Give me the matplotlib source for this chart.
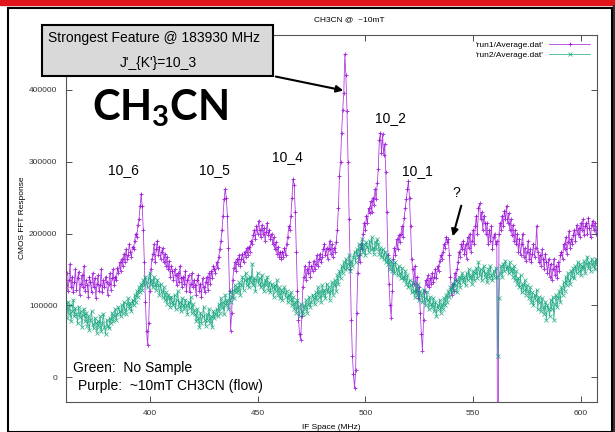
import numpy as np
import matplotlib
matplotlib.use("Agg")
import matplotlib.pyplot as plt
from matplotlib.patches import Rectangle

plt.rcParams['font.family'] = ['Liberation Sans', 'DejaVu Sans']
plt.rcParams['mathtext.fontset'] = 'custom'
plt.rcParams['mathtext.rm'] = 'Lato:bold'
plt.rcParams['mathtext.it'] = 'Lato:bold'
plt.rcParams['mathtext.bf'] = 'Lato:bold'

# frequency grid (MHz), one point every 0.5 MHz
f_start = 361.0
f_step = 0.5

# run1 (purple, CH3CN flow), values in units of 1000
run1_k = [
    128, 145, 120, 135, 158, 125, 140, 118, 132, 150,
    122, 138, 147, 115, 130, 142, 125, 155, 120, 135,
    128, 112, 140, 133, 118, 145, 125, 138, 110, 130,
    142, 120, 128, 150, 118, 135, 125, 140, 132, 115,
    130, 145, 122, 138, 150, 128, 140, 135, 152, 145,
    160, 148, 165, 155, 172, 160, 178, 165, 170, 185,
    175, 168, 182, 178, 190, 200, 195, 212, 220, 238,
    255, 238, 205, 160, 105, 65, 45, 75, 120, 150,
    165, 172, 185, 160, 178, 190, 170, 182, 165, 175,
    180, 160, 172, 155, 168, 150, 162, 140, 155, 148,
    135, 150, 142, 128, 145, 132, 155, 138, 125, 140,
    130, 148, 120, 135, 142, 118, 130, 145, 125, 135,
    128, 115, 135, 142, 120, 130, 112, 138, 125, 118,
    132, 140, 122, 145, 130, 148, 138, 155, 150, 145,
    160, 152, 168, 178, 190, 205, 225, 248, 262, 250,
    225, 180, 120, 65, 90, 135, 152, 160, 148, 165,
    158, 170, 155, 165, 172, 160, 175, 168, 180, 170,
    182, 175, 190, 185, 198, 205, 192, 210, 200, 218,
    205, 195, 212, 200, 208, 190, 202, 215, 198, 205,
    192, 200, 185, 195, 178, 188, 172, 182, 168, 175,
    165, 175, 168, 180, 170, 185, 195, 210, 205, 225,
    250, 276, 268, 230, 175, 120, 80, 60, 52, 85,
    125, 140, 155, 135, 150, 145, 160, 140, 155, 148,
    162, 150, 158, 170, 155, 165, 172, 160, 168, 178,
    185, 170, 180, 165, 178, 190, 172, 185, 168, 180,
    175, 188, 205, 235, 280, 300, 340, 372, 395, 450,
    420, 370, 300, 220, 150, 80, 30, 5, -15, 10,
    90, 145, 170, 160, 185, 178, 200, 215, 205, 225,
    215, 235, 228, 245, 230, 250, 240, 262, 248, 270,
    290, 330, 340, 312, 338, 310, 325, 285, 230, 170,
    130, 100, 83, 120, 165, 180, 170, 192, 178, 198,
    188, 200, 210, 195, 222, 235, 248, 262, 273, 250,
    210, 165, 150, 130, 155, 120, 140, 110, 125, 90,
    60, 37, 80, 120, 135, 128, 142, 125, 138, 130,
    145, 132, 140, 150, 138, 155, 148, 162, 170, 165,
    175, 185, 180, 195, 188, 192, 170, 140, 115, 130,
    120, 145, 135, 150, 160, 175, 168, 185, 178, 190,
    172, 185, 165, 195, 180, 200, 175, 190, 205, 185,
    210, 225, 200, 235, 242, 220, 230, 205, 225, 215,
    200, 215, 185, 205, 190, 210, 178, 195, 200, 185,
    190, -250, 200, 215, 205, 225, 210, 232, 220, 239,
    215, 228, 205, 220, 198, 212, 190, 205, 185, 200,
    175, 192, 170, 185, 200, 168, 180, 162, 175, 190,
    165, 178, 160, 172, 185, 168, 180, 211, 175, 160,
    170, 155, 178, 165, 150, 172, 160, 145, 165, 140,
    158, 135, 150, 165, 142, 155, 138, 160, 148, 170,
    175, 165, 185, 178, 195, 172, 188, 204, 180, 192,
    185, 198, 205, 190, 212, 200, 208, 195, 215, 205,
    220, 198, 210, 215, 200, 222, 208, 195, 212, 218,
    205, 215, 200, 210,
]

# run2 (green, no sample), values in units of 1000
run2_k = [
    95, 82, 105, 88, 100, 78, 92, 108, 85, 96,
    88, 75, 98, 84, 92, 70, 86, 95, 78, 90,
    72, 85, 66, 80, 92, 74, 68, 83, 76, 62,
    78, 70, 85, 64, 75, 88, 70, 60, 80, 72,
    68, 82, 75, 90, 78, 85, 95, 80, 88, 98,
    92, 85, 100, 90, 105, 95, 88, 102, 110, 96,
    104, 92, 108, 100, 115, 105, 120, 112, 125, 118,
    130, 122, 135, 128, 140, 132, 125, 138, 145, 130,
    135, 125, 140, 130, 122, 136, 128, 115, 130, 120,
    112, 125, 108, 118, 102, 115, 110, 98, 112, 105,
    100, 115, 95, 108, 120, 98, 105, 92, 110, 100,
    95, 108, 100, 88, 105, 96, 112, 90, 102, 94,
    88, 78, 95, 82, 70, 90, 76, 85, 98, 80,
    72, 88, 80, 95, 76, 85, 70, 92, 82, 88,
    95, 85, 102, 90, 110, 96, 105, 88, 115, 100,
    108, 95, 118, 105, 112, 122, 110, 128, 118, 125,
    120, 132, 115, 128, 140, 122, 135, 145, 128, 138,
    125, 140, 132, 158, 128, 138, 120, 135, 145, 130,
    138, 125, 142, 130, 120, 135, 128, 140, 122, 132,
    118, 130, 125, 112, 128, 120, 135, 115, 125, 110,
    122, 108, 118, 125, 112, 120, 105, 115, 108, 118,
    100, 112, 95, 105, 90, 108, 98, 85, 102, 92,
    88, 100, 95, 108, 90, 102, 112, 98, 105, 115,
    110, 102, 118, 108, 125, 112, 120, 105, 128, 115,
    122, 110, 130, 118, 125, 108, 120, 132, 115, 128,
    135, 120, 142, 130, 148, 138, 155, 145, 160, 150,
    165, 152, 158, 170, 148, 162, 155, 168, 175, 160,
    178, 168, 185, 172, 180, 192, 175, 185, 170, 188,
    182, 175, 190, 178, 195, 180, 172, 188, 178, 192,
    185, 172, 180, 168, 178, 165, 175, 160, 170, 158,
    165, 150, 162, 148, 158, 145, 160, 150, 142, 155,
    145, 138, 152, 140, 135, 148, 130, 142, 125, 135,
    128, 118, 132, 120, 112, 125, 115, 130, 108, 120,
    115, 105, 122, 110, 100, 118, 108, 95, 112, 102,
    98, 110, 92, 105, 85, 100, 95, 108, 90, 102,
    95, 110, 100, 115, 105, 120, 112, 125, 118, 130,
    122, 135, 128, 118, 132, 140, 125, 138, 145, 132,
    140, 128, 145, 135, 150, 138, 142, 130, 148, 135,
    145, 152, 138, 160, 142, 150, 135, 148, 155, 140,
    145, 132, 150, 138, 155, 142, 135, 148, 140, 152,
    140, 30, 110, 145, 155, 140, 158, 148, 162, 150,
    155, 145, 160, 148, 152, 140, 155, 135, 148, 130,
    138, 125, 142, 118, 130, 122, 135, 115, 128, 120,
    110, 125, 105, 118, 100, 115, 108, 122, 95, 112,
    105, 92, 110, 98, 88, 105, 80, 100, 95, 85,
    108, 95, 112, 80, 102, 115, 98, 110, 120, 105,
    125, 115, 132, 120, 140, 128, 145, 135, 130, 148,
    140, 152, 138, 155, 145, 160, 148, 158, 142, 155,
    150, 162, 145, 158, 168, 152, 160, 148, 165, 155,
    160, 150, 165, 158,
]

run1 = np.array(run1_k) * 1000
run2 = np.array(run2_k) * 1000
freq = f_start + f_step * np.arange(len(run1))

line_labels = ["10_6", "10_5", "10_4", "10_2", "10_1", "?"]


def fp(x, y):
    # pixel position (from top-left) -> figure fraction
    return (x / 615, 1 - y / 432)


fig = plt.figure(figsize=(6.15, 4.32), dpi=100)

# slide background bits
fig.patches.append(Rectangle((0, 1 - 5 / 432), 1, 5 / 432, transform=fig.transFigure,
                             color="#e0151b", zorder=-2))
fig.patches.append(Rectangle((613 / 615, 0), 2 / 615, 1 - 5 / 432, transform=fig.transFigure,
                             color="#333333", zorder=-2))
fig.patches.append(Rectangle(fp(8, 432), 604 / 615, 424 / 432, transform=fig.transFigure,
                             facecolor="white", edgecolor="black", lw=1.5, zorder=-1))

ax = fig.add_axes([0.1068, 0.0701, 0.864, 0.850])
ax.set_zorder(1)
ax.patch.set_alpha(0)

ax.plot(freq, run1, color="#9400d3", lw=0.6, alpha=0.75, marker="+", ms=3.5,
        mew=0.7, label="'run1/Average.dat'")
ax.plot(freq, run2, color="#009e73", lw=0.6, alpha=0.75, marker="x", ms=2.5,
        mew=0.6, label="'run2/Average.dat'")

ax.set_xlim(361, 607.5)
ax.set_ylim(-34000, 477000)
ax.set_xticks([400, 450, 500, 550, 600])
ax.set_yticks([0, 100000, 200000, 300000, 400000])
ax.tick_params(direction="in", length=4, width=0.6, labelsize=6, colors="#333333",
               top=True, right=True, pad=6)
for s in ax.spines.values():
    s.set_color("#555555")
    s.set_linewidth(0.8)

ax.set_xlabel("IF Space (MHz)", fontsize=6, labelpad=5)
ax.set_ylabel("CMOS FFT Response", fontsize=6, labelpad=2)
fig.text(*fp(349, 20), "CH3CN @  ~10mT", fontsize=6, ha="center", va="center")

leg = ax.legend(loc="upper right", fontsize=6, frameon=False, markerfirst=False,
                handlelength=5, borderaxespad=0.4, labelspacing=0.2, handletextpad=0.6)

# annotation box
fig.patches.append(Rectangle(fp(42, 76), 231 / 615, 51 / 432, transform=fig.transFigure,
                             facecolor="#d9d9d9", edgecolor="black", lw=1.5, zorder=5))
fig.text(*fp(154, 38), "Strongest Feature @ 183930 MHz", fontsize=10,
         ha="center", va="center", zorder=6)
fig.text(*fp(158, 63), "J'_{K'}=10_3", fontsize=10, ha="center", va="center", zorder=6)
ax.annotate("", xy=fp(346, 91), xycoords="figure fraction",
            xytext=fp(273, 76), textcoords="figure fraction",
            arrowprops=dict(arrowstyle="-|>", color="black", lw=1.5, mutation_scale=10))

fig.text(*fp(160, 108), "CH$_3$CN", fontsize=30, fontweight="bold", family="Lato",
         ha="center", va="center", zorder=6)

label_pos = [(123, 170), (214, 170), (287, 157), (391, 118), (417, 171), (456, 193)]
for lab, (px, py) in zip(line_labels, label_pos):
    fig.text(*fp(px, py), lab, fontsize=10, ha="center", va="center", zorder=6)
ax.annotate("", xy=fp(452, 239), xycoords="figure fraction",
            xytext=fp(462, 203), textcoords="figure fraction",
            arrowprops=dict(arrowstyle="-|>", color="black", lw=1.5, mutation_scale=10))

fig.text(*fp(73, 368), "Green:  No Sample", fontsize=10, ha="left", va="center", zorder=6)
fig.text(*fp(78, 386), "Purple:  ~10mT CH3CN (flow)", fontsize=10, ha="left",
         va="center", zorder=6)

fig.savefig("out.png", dpi=100)
